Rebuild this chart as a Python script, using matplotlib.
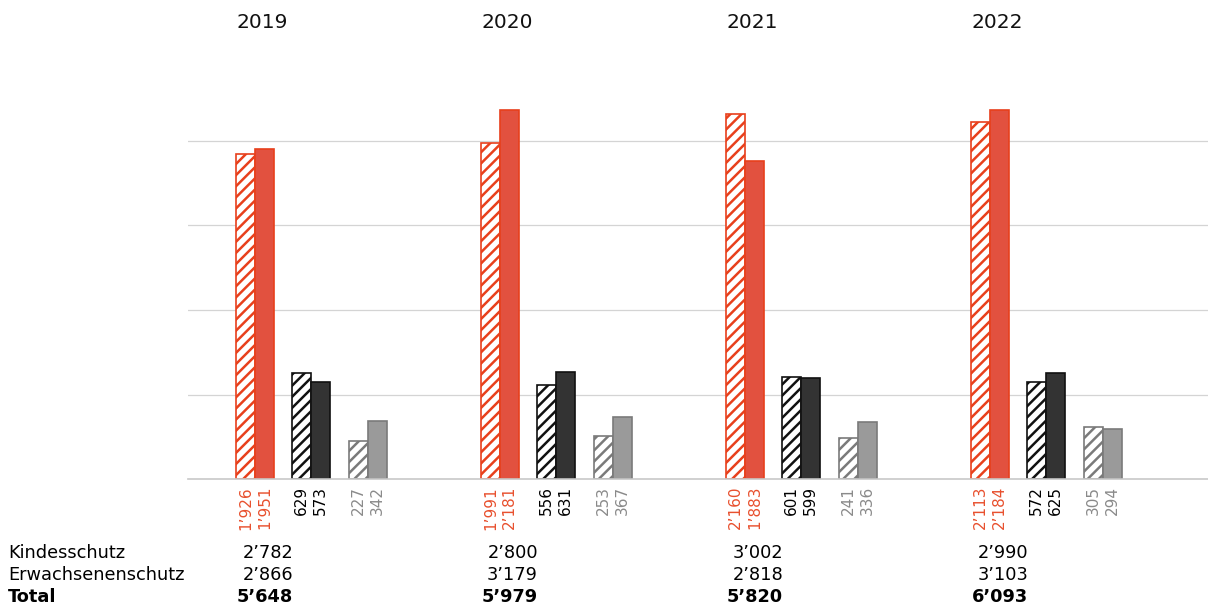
import matplotlib
matplotlib.use("Agg")
import matplotlib.pyplot as plt
import numpy as np

plt.rcParams['font.family'] = ['DejaVu Sans']
plt.rcParams['hatch.linewidth'] = 1.8

years = ['2019', '2020', '2021', '2022']
row_labels = ['Kindesschutz', 'Erwachsenenschutz', 'Total']

# hatched = Kindesschutz, solid = Erwachsenenschutz
kind_red = [1926, 1991, 2160, 2113]
erw_red = [1951, 2181, 1883, 2184]
kind_black = [629, 556, 601, 572]
erw_black = [573, 631, 599, 625]
kind_gray = [227, 253, 241, 305]
erw_gray = [342, 367, 336, 294]

RED = '#E2513F'
RED_EDGE = '#E8401C'
RED_TXT = '#E8502E'
BLACK = '#333333'
BLACK_EDGE = '#111111'
GRAY = '#9a9a9a'
GRAY_EDGE = '#7a7a7a'
GRAY_TXT = '#8a8a8a'


def fmt(v):
    return f'{v:,}'.replace(',', '\u2019')


W, H = 1208, 607
fig = plt.figure(figsize=(W / 100, H / 100), dpi=100)

px_per_unit = 338 / 2000
ax_top = 60
ax = fig.add_axes([188 / W, (H - 479) / H, 1 - 188 / W, (479 - ax_top) / H])
ax.set_ylim(0, (479 - ax_top) / px_per_unit)
ax.set_xlim(-48 / 245, (1208 - 236) / 245)

bw = 19 / 245
# bar centres relative to group origin (pixels / group spacing)
offs = {
    'kr': 9.5 / 245, 'er': 28.5 / 245,
    'kb': 65.5 / 245, 'eb': 84.5 / 245,
    'kg': 122.5 / 245, 'eg': 141.5 / 245,
}

x = np.arange(len(years))

series = [
    ('kr', kind_red, 'white', RED_EDGE, '///', RED_TXT),
    ('er', erw_red, RED, RED_EDGE, None, RED_TXT),
    ('kb', kind_black, 'white', BLACK_EDGE, '///', 'black'),
    ('eb', erw_black, BLACK, BLACK_EDGE, None, 'black'),
    ('kg', kind_gray, 'white', GRAY_EDGE, '///', GRAY_TXT),
    ('eg', erw_gray, GRAY, GRAY_EDGE, None, GRAY_TXT),
]

for key, vals, fc, ec, hatch, tc in series:
    xs = x + offs[key]
    ax.bar(xs, vals, width=bw, color=fc, edgecolor=ec, hatch=hatch,
           linewidth=1.2, zorder=3)
    for xi, v in zip(xs, vals):
        ax.annotate(fmt(v), (xi, 0), xytext=(0, -5), textcoords='offset points',
                    rotation=90, ha='center', va='top', fontsize=11, color=tc,
                    annotation_clip=False)

for gy in [500, 1000, 1500, 2000]:
    ax.axhline(gy, color='#d4d4d4', linewidth=0.9, zorder=1)
ax.axhline(0, color='#c8c8c8', linewidth=1.2, zorder=4, clip_on=False)

ax.set_xticks([])
ax.set_yticks([])
for s in ax.spines.values():
    s.set_visible(False)

# year headers
for xi, yr in zip(x, years):
    fig.text((236 + xi * 245.3) / W, 1 - 23 / H, yr, ha='left', va='center',
             fontsize=14.5, color='#111111')

# summary table below
kind_tot = [a + b + c for a, b, c in zip(kind_red, kind_black, kind_gray)]
erw_tot = [a + b + c for a, b, c in zip(erw_red, erw_black, erw_gray)]
all_tot = [a + b for a, b in zip(kind_tot, erw_tot)]

rows_y = [558, 580, 602]
for lbl, yy, wt in zip(row_labels, rows_y, ['normal', 'normal', 'bold']):
    fig.text(8 / W, 1 - yy / H, lbl, ha='left', va='baseline', fontsize=12.8,
             fontweight=wt, color='black')

for xi in x:
    xr = (293 + xi * 245) / W
    for vals, yy, wt in zip([kind_tot, erw_tot, all_tot], rows_y,
                            ['normal', 'normal', 'bold']):
        fig.text(xr, 1 - yy / H, fmt(vals[xi]), ha='right', va='baseline',
                 fontsize=12.8, fontweight=wt, color='black')

fig.savefig('out.png', dpi=100)
